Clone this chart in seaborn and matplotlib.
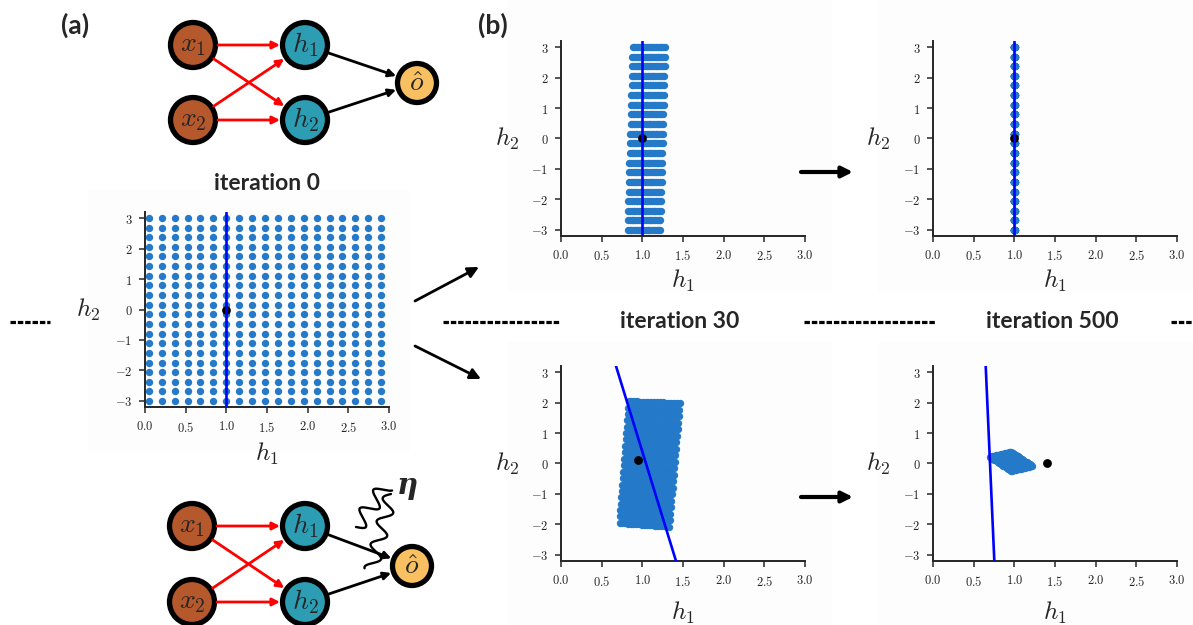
import numpy as np
import matplotlib
matplotlib.use('Agg')
import matplotlib.pyplot as plt
import seaborn as sns
from matplotlib.patches import Circle, Rectangle

sns.set_style('ticks')
plt.rcParams['mathtext.fontset'] = 'cm'
plt.rcParams['font.family'] = ['Lato', 'DejaVu Sans']

W, H = 1193, 625

# input grid in hidden space (iteration 0)
h1_grid = [0.05, 0.21, 0.37, 0.53, 0.68, 0.84, 1.00, 1.16, 1.32, 1.48,
           1.63, 1.79, 1.95, 2.11, 2.27, 2.42, 2.58, 2.74, 2.90]
h2_grid = [-3.00, -2.68, -2.37, -2.05, -1.74, -1.42, -1.11, -0.79, -0.47, -0.16,
           0.16, 0.47, 0.79, 1.11, 1.42, 1.74, 2.05, 2.37, 2.68, 3.00]

# where the grid corners ended up: (h1min,h2min), (h1max,h2min), (h1min,h2max), (h1max,h2max)
corners_it0 = [(0.05, -3.0), (2.90, -3.0), (0.05, 3.0), (2.90, 3.0)]
corners_it30_clean = [(0.82, -3.0), (1.22, -3.0), (0.88, 3.0), (1.28, 3.0)]
corners_it500_clean = [(0.995, -3.0), (1.005, -3.0), (0.995, 3.0), (1.005, 3.0)]
corners_it30_noisy = [(0.72, -1.95), (1.33, -2.07), (0.83, 2.05), (1.46, 1.98)]
corners_it500_noisy = [(0.96, -0.24), (1.22, -0.08), (0.70, 0.22), (0.96, 0.38)]

# black dot (target) per panel
dot_it0 = (1.00, 0.00)
dot_it30_clean = (1.00, 0.00)
dot_it500_clean = (1.00, 0.00)
dot_it30_noisy = (0.95, 0.12)
dot_it500_noisy = (1.40, 0.02)

# blue decision line: h1 at top (h2=3.2) and at bottom (h2=-3.2)
line_it0 = (1.00, 1.00)
line_it30_clean = (1.00, 1.00)
line_it500_clean = (1.00, 1.00)
line_it30_noisy = (0.676, 1.414)
line_it500_noisy = (0.648, 0.754)

x_ticks = [0.0, 0.5, 1.0, 1.5, 2.0, 2.5, 3.0]
y_ticks = [-3, -2, -1, 0, 1, 2, 3]

PT_BLUE = '#2579c9'
X_COL = '#b5582c'
H_COL = '#2c9db3'
O_COL = '#f8c060'

fig = plt.figure(figsize=(W / 100, H / 100), dpi=100)

ov = fig.add_axes([0, 0, 1, 1], zorder=0)
ov.set_xlim(0, W)
ov.set_ylim(H, 0)
ov.axis('off')

# faint image backgrounds
for (l, t, r, b) in [(88, 190, 410, 452), (507, 0, 832, 292), (878, 0, 1193, 292),
                     (507, 342, 832, 625), (878, 342, 1193, 625)]:
    ov.add_patch(Rectangle((l, t), r - l, b - t, color='#fdfdfd', lw=0, zorder=0))


def grid_points(c):
    (bl, br, tl, tr) = [np.array(p) for p in c]
    xs, ys = [], []
    for v in h2_grid:
        t = (v - h2_grid[0]) / (h2_grid[-1] - h2_grid[0])
        for u in h1_grid:
            s = (u - h1_grid[0]) / (h1_grid[-1] - h1_grid[0])
            p = bl * (1 - s) * (1 - t) + br * s * (1 - t) + tl * (1 - s) * t + tr * s * t
            xs.append(p[0])
            ys.append(p[1])
    return xs, ys


def panel(rect, corners, dot, line, xl_off, yl_off):
    l, t, r, b = rect
    ax = fig.add_axes([l / W, 1 - b / H, (r - l) / W, (b - t) / H], zorder=2)
    ax.set_facecolor('none')
    xs, ys = grid_points(corners)
    sns.scatterplot(x=xs, y=ys, ax=ax, color=PT_BLUE, s=28, linewidth=0,
                    legend=False, zorder=2)
    sns.scatterplot(x=[dot[0]], y=[dot[1]], ax=ax, color='k', s=40, linewidth=0,
                    legend=False, zorder=3)
    ax.plot([line[0], line[1]], [3.2, -3.2], color='#0000ff', lw=1.9, zorder=4)
    ax.set_xlim(0, 3)
    ax.set_ylim(-3.2, 3.2)
    ax.set_xticks(x_ticks)
    ax.set_xticklabels([f'${v:.1f}$' for v in x_ticks])
    ax.set_yticks(y_ticks)
    ax.set_yticklabels([f'${v}$' for v in y_ticks])
    sns.despine(ax=ax)
    for s in ['left', 'bottom']:
        ax.spines[s].set_linewidth(1.4)
    ax.tick_params(direction='out', length=4, width=1.1, labelsize=9, pad=5)
    ax.set_xlabel(r'$h_1$', fontsize=18)
    ax.set_ylabel(r'$h_2$', fontsize=18, rotation=0)
    ax.xaxis.set_label_coords(0.5, -xl_off / (b - t))
    ax.yaxis.set_label_coords(-yl_off / (r - l), 0.5)
    ax.xaxis.label.set_va('center')
    ax.yaxis.label.set_va('center')
    return ax


panel((145, 212, 389, 407), corners_it0, dot_it0, line_it0, 47, 57)
panel((561, 41, 805, 236), corners_it30_clean, dot_it30_clean, line_it30_clean, 45, 54)
panel((933, 41, 1177, 236), corners_it500_clean, dot_it500_clean, line_it500_clean, 45, 55)
panel((561, 366, 805, 561), corners_it30_noisy, dot_it30_noisy, line_it30_noisy, 52, 54)
panel((933, 366, 1177, 561), corners_it500_noisy, dot_it500_noisy, line_it500_noisy, 52, 55)

# titles and panel letters
ov.text(267, 183, 'iteration 0', ha='center', va='center', fontsize=16.5, fontweight='bold')
ov.text(680, 322, 'iteration 30', ha='center', va='center', fontsize=16.5, fontweight='bold')
ov.text(1052, 322, 'iteration 500', ha='center', va='center', fontsize=16.5, fontweight='bold')
ov.text(75, 25, '(a)', ha='center', va='center', fontsize=19, fontweight='bold')
ov.text(493, 25, '(b)', ha='center', va='center', fontsize=19, fontweight='bold')

# dashed separators
for x0, x1 in [(10, 50), (443, 559), (804, 935), (1171, 1193)]:
    ov.plot([x0, x1], [322, 322], color='k', lw=2.3, linestyle=(0, (1.7, 0.6)),
            solid_capstyle='butt', dash_capstyle='butt')


def arrow(p0, p1, color='k', lw=1.9, ms=13):
    ov.annotate('', xy=p1, xytext=p0,
                arrowprops=dict(arrowstyle='-|>', color=color, lw=lw,
                                mutation_scale=ms, shrinkA=0, shrinkB=0))


arrow((415, 301), (479, 267), lw=2.0, ms=16)
arrow((415, 346), (481, 379), lw=2.0, ms=16)
arrow((801, 172), (853, 172), lw=3.0, ms=16)
arrow((801, 497), (853, 497), lw=3.0, ms=16)


def network(x1, x2, h1, h2, o):
    r_in, r_out = 25, 22
    nodes = [(x1, X_COL, r'$x_1$', r_in), (x2, X_COL, r'$x_2$', r_in),
             (h1, H_COL, r'$h_1$', r_in), (h2, H_COL, r'$h_2$', r_in),
             (o, O_COL, r'$\hat{o}$', r_out)]
    for (c, col, lab, rr) in nodes:
        ov.add_patch(Circle(c, rr - 2.5, facecolor=col, edgecolor='k', lw=3.8, zorder=3))
        ov.text(c[0], c[1], lab, ha='center', va='center', fontsize=20, zorder=4)
    edges = [(x1, h1, 'red', r_in), (x1, h2, 'red', r_in), (x2, h1, 'red', r_in),
             (x2, h2, 'red', r_in), (h1, o, 'k', r_out), (h2, o, 'k', r_out)]
    for a, b, col, rb in edges:
        a, b = np.array(a, float), np.array(b, float)
        d = (b - a) / np.hypot(*(b - a))
        arrow(tuple(a + d * r_in), tuple(b - d * rb), color=col, lw=2.0, ms=11)


network((193, 45), (193, 120), (305, 45), (305, 120), (417, 83))
network((192, 526), (192, 602), (305, 526), (305, 602), (412, 566))


def squiggle(p0, p1, amp, periods):
    p0, p1 = np.array(p0, float), np.array(p1, float)
    tt = np.linspace(0, 1, 200)
    d = p1 - p0
    n = np.array([-d[1], d[0]]) / np.hypot(*d)
    pts = p0[None, :] + tt[:, None] * d[None, :] + \
        (amp * np.sin(2 * np.pi * periods * tt))[:, None] * n[None, :]
    ov.plot(pts[:, 0], pts[:, 1], color='k', lw=1.7, zorder=5)


squiggle((356, 527), (386, 486), 8, 2.2)
squiggle((391, 494), (371, 570), 7, 3.3)
ov.text(407, 485, 'η', ha='center', va='center', fontsize=21, fontweight='bold',
        fontstyle='italic', family='DejaVu Serif', zorder=5)

fig.savefig('out.png', dpi=100)
